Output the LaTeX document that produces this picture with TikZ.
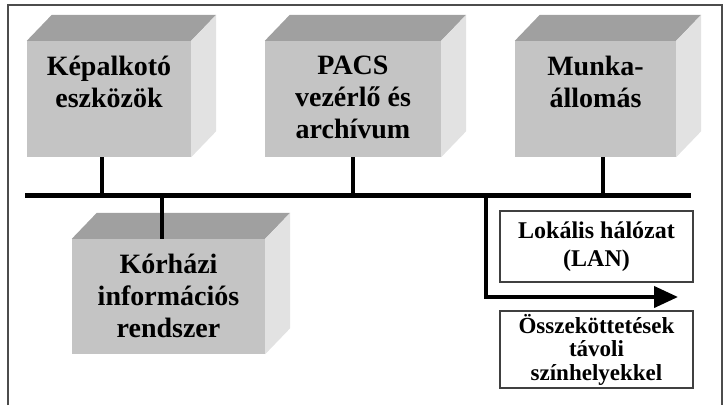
\documentclass[tikz,border=0pt]{standalone}
\usepackage{fontspec}
\setmainfont{Liberation Serif}
\usetikzlibrary{arrows.meta}

\definecolor{frontgray}{HTML}{C4C4C4}
\definecolor{topgray}{HTML}{A0A0A0}
\definecolor{sidegray}{HTML}{E2E2E2}

\begin{document}
\begin{tikzpicture}[x=1pt, y=-1pt,
    face/.style={fill=frontgray, inner sep=0pt, minimum height=116pt},
    boxtext/.style={anchor=north, inner sep=0pt, align=center,
        font=\fontsize{28}{32}\selectfont\bfseries},
    netbox/.style={draw=black!75, line width=1.4pt, fill=white, inner sep=0pt,
        minimum width=193pt, align=center, font=\fontsize{24}{28}\selectfont\bfseries},
    bus/.style={line width=5pt},
    link/.style={line width=4pt}]
    \useasboundingbox (0,0) rectangle (726,405);

    % Keret
    \draw[black!70, line width=1.2pt] (8,405) -- (8,5) -- (722,5) -- (722,405);

    % Dobozok (elolap)
    \node[face, minimum width=164pt] (img) at (109,99) {};
    \node[face, minimum width=176pt] (pacs) at (353,99) {};
    \node[face, minimum width=161pt] (munka) at (595.5,99) {};
    \node[face, minimum width=193pt, minimum height=115pt] (his) at (168.5,296.5) {};

    % Teteje
    \fill[topgray] (img.north west) -- ++(25,-26) -- ([shift={(25,-26)}]img.north east) -- (img.north east) -- cycle;
    \fill[topgray] (pacs.north west) -- ++(25,-26) -- ([shift={(25,-26)}]pacs.north east) -- (pacs.north east) -- cycle;
    \fill[topgray] (munka.north west) -- ++(25,-26) -- ([shift={(25,-26)}]munka.north east) -- (munka.north east) -- cycle;
    \fill[topgray] (his.north west) -- ++(25,-26) -- ([shift={(25,-26)}]his.north east) -- (his.north east) -- cycle;
    % Oldala
    \fill[sidegray] (img.north east) -- ++(25,-26) -- ([shift={(25,-26)}]img.south east) -- (img.south east) -- cycle;
    \fill[sidegray] (pacs.north east) -- ++(25,-26) -- ([shift={(25,-26)}]pacs.south east) -- (pacs.south east) -- cycle;
    \fill[sidegray] (munka.north east) -- ++(25,-26) -- ([shift={(25,-26)}]munka.south east) -- (munka.south east) -- cycle;
    \fill[sidegray] (his.north east) -- ++(25,-26) -- ([shift={(25,-26)}]his.south east) -- (his.south east) -- cycle;

    % Feliratok
    \node[boxtext] (imgtext) at ([yshift=-15pt]img.north) {Képalkotó\\eszközök};
    \node[boxtext] (pacstext) at ([yshift=-15pt]pacs.north) {PACS\\vezérlő és\\archívum};
    \node[boxtext] (munkatext) at ([yshift=-15pt]munka.north) {Munka-\\állomás};
    \node[boxtext] (histext) at ([yshift=-15pt]his.north) {Kórházi\\információs\\rendszer};

    % Hálózat (busz)
    \coordinate (busL) at (25,195);
    \coordinate (busR) at (691,195);
    \draw[bus] (busL) -- (busR);
    \draw[link] ([xshift=-7pt]img.south) -- ([xshift=-7pt]img.south |- busL);
    \draw[link] (pacs.south) -- (pacs.south |- busL);
    \draw[link] ([xshift=7.5pt]munka.south) -- ([xshift=7.5pt]munka.south |- busL);
    \draw[link] ([xshift=-6.5pt]his.north) -- ([xshift=-6.5pt]his.north |- busL);

    % Kimenő nyíl
    \coordinate (branch) at (486,195);
    \coordinate (wan) at (678,297);
    \draw[link, -{Triangle[length=24pt, width=21pt]}] (branch) |- (wan);

    % Szöveges dobozok
    \node[netbox, minimum height=71pt] (lan) at (596.5,246.5) {Lokális hálózat\\(LAN)};
    \node[netbox, minimum height=77pt, font=\fontsize{23}{23.5}\selectfont\bfseries] (remote) at (596.5,349.5)
        {Összeköttetések\\távoli\\színhelyekkel};
\end{tikzpicture}
\end{document}
